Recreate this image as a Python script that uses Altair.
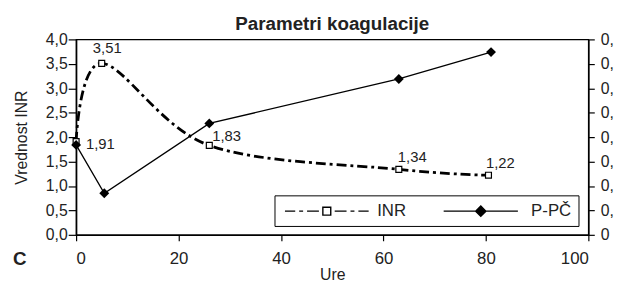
import altair as alt
import pandas as pd

# ---- data ----
hours_inr = [0, 5, 26, 63, 80.5]
inr_values = [1.91, 3.51, 1.83, 1.34, 1.22]
inr_labels = ["1,91", "3,51", "1,83", "1,34", "1,22"]
hours_ppc = [0, 5.5, 26, 63, 81]
ppc_values = [0.368, 0.17, 0.456, 0.638, 0.748]
series_names = ["INR", "P-PČ"]
x_ticks = [0, 20, 40, 60, 80, 100]
inr_ticks = [0.0, 0.5, 1.0, 1.5, 2.0, 2.5, 3.0, 3.5, 4.0]
ppc_ticks = [0.0, 0.1, 0.2, 0.3, 0.4, 0.5, 0.6, 0.7, 0.8]

FONT = "Liberation Sans"
TXT = "#222222"

inr_df = pd.DataFrame({"hours": hours_inr, "inr": inr_values,
                       "lab": inr_labels, "idx": list(range(len(hours_inr)))})
ppc_df = pd.DataFrame({"hours": hours_ppc, "ppc": ppc_values})
leg_df = pd.DataFrame({"series": series_names})

x_enc = alt.X("hours:Q", scale=alt.Scale(domain=[0, 100], nice=False),
              axis=alt.Axis(values=x_ticks, title="Ure", labelPadding=10,
                            titlePadding=0, tickSize=6, labelFontSize=17,
                            titleFontSize=16))
y_inr = alt.Y("inr:Q", scale=alt.Scale(domain=[0, 4], nice=False),
              axis=alt.Axis(values=inr_ticks, title="Vrednost INR",
                            labelExpr="replace(format(datum.value, '.1f'), '.', ',')",
                            labelPadding=1, tickSize=8, titlePadding=16,
                            labelFontSize=16))
y_ppc = alt.Y("ppc:Q", scale=alt.Scale(domain=[0, 0.8], nice=False),
              axis=alt.Axis(values=ppc_ticks, orient="right", title=None,
                            labelExpr="datum.value == 0 ? '0' : '0,'",
                            labelPadding=6, tickSize=6, labelFontSize=16))

inr_line = alt.Chart(inr_df).mark_line(
    interpolate="cardinal", color="black", strokeWidth=2.8,
    strokeDash=[10, 4, 3, 4]).encode(x=x_enc, y=y_inr)
inr_pts = alt.Chart(inr_df).mark_point(
    shape="square", filled=True, fill="white", stroke="black",
    strokeWidth=1.2, size=36, opacity=1).encode(x=x_enc, y=y_inr)

label_offsets = {0: (10, 2.5), 1: (-9, -15), 2: (3, -9), 3: (-1, -12), 4: (-2.5, -12.5)}
label_layers = []
for i, (dx, dy) in label_offsets.items():
    label_layers.append(
        alt.Chart(inr_df).transform_filter(alt.datum.idx == i).mark_text(
            align="left", baseline="middle", dx=dx, dy=dy, font=FONT,
            fontSize=15, color=TXT).encode(x=x_enc, y=y_inr, text="lab:N"))

inr_sym = ("M-5.3,0L-4.0,0M-3.5,0L-3.0,0M-2.5,0L-1.0,0"
           "M-0.5,-0.5L0.5,-0.5L0.5,0.5L-0.5,0.5Z"
           "M1.0,0L2.5,0M3.0,0L3.5,0M4.0,0L5.3,0")
ppc_sym = "M-4.7,0L4.7,0M0,-0.65L0.65,0L0,0.65L-0.65,0Z"

legend = alt.Legend(title=None, orient="none", legendX=201, legendY=158,
                    direction="horizontal", strokeColor="black", fillColor="white",
                    padding=7, symbolSize=256, symbolStrokeWidth=1.4,
                    labelFont=FONT, labelFontSize=17,
                    labelColor=TXT, symbolOffset=37, labelOffset=42,
                    columnPadding=29)
legend_layer = alt.Chart(leg_df).mark_point(
    filled=True, clip=True, stroke="black", strokeWidth=1.4, opacity=1).encode(
    x=alt.value(-1000), y=alt.value(-1000),
    shape=alt.Shape("series:N", scale=alt.Scale(domain=series_names,
                                                range=[inr_sym, ppc_sym]),
                    legend=legend),
    fill=alt.Fill("series:N", scale=alt.Scale(domain=series_names,
                                              range=["white", "black"]),
                  legend=legend))

c_label = alt.Chart(pd.DataFrame({"t": ["C"]})).mark_text(
    font=FONT, fontSize=19, fontWeight="bold", color=TXT,
    align="center", baseline="middle").encode(
    x=alt.value(-57), y=alt.value(223), text="t:N")

left = alt.layer(inr_line, inr_pts, *label_layers, legend_layer, c_label)

ppc_line = alt.Chart(ppc_df).mark_line(color="black", strokeWidth=1.3).encode(
    x=x_enc, y=y_ppc)
ppc_pts = alt.Chart(ppc_df).mark_point(
    shape="diamond", filled=True, color="black", size=100, opacity=1).encode(
    x=x_enc, y=y_ppc)
right = alt.layer(ppc_line, ppc_pts)

chart = alt.layer(left, right).resolve_scale(y="independent").properties(
    width=519, height=198,
    autosize=alt.AutoSizeParams(type="none"),
    padding={"left": 69, "top": 30, "right": 28, "bottom": 48},
    title=alt.TitleParams("Parametri koagulacije", font=FONT, fontSize=19,
                          fontWeight="bold", color=TXT, anchor="middle",
                          offset=-2),
).configure_view(stroke="black", strokeWidth=1.3).configure_axis(
    domainColor="black", domainWidth=1.5, tickColor="black", tickWidth=1.2,
    grid=False, labelFont=FONT, labelFontSize=16, labelColor=TXT,
    titleFont=FONT, titleFontSize=16, titleFontWeight="normal", titleColor=TXT)

chart.save("out.html", embed_options={"renderer": "svg", "actions": False})
